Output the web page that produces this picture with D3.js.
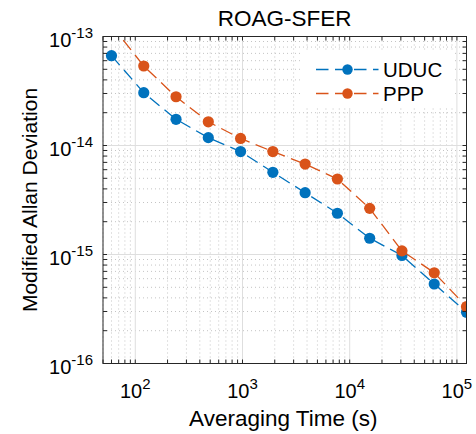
<!DOCTYPE html>
<html>
<head>
<meta charset="utf-8">
<script src="https://cdn.jsdelivr.net/npm/d3@7"></script>
<style>
  body { margin: 0; background: #fff; }
  text { font-family: "Liberation Sans", Arial, Helvetica, sans-serif; fill: #000; }
</style>
</head>
<body>
<div id="chart"></div>
<script>
// Averaging times (s) and modified Allan deviation
const tau = [60, 120, 240, 480, 960, 1920, 3840, 7680, 15360, 30720, 61440, 122880];
const uduc = [6.67e-14, 3.05e-14, 1.74e-14, 1.18e-14, 8.8e-15, 5.68e-15, 3.69e-15, 2.39e-15, 1.41e-15, 9.8e-16, 5.36e-16, 2.95e-16];
const ppp = [1.27e-13, 5.36e-14, 2.8e-14, 1.65e-14, 1.16e-14, 8.8e-15, 6.76e-15, 4.93e-15, 2.65e-15, 1.08e-15, 6.8e-16, 3.32e-16];
const seriesNames = ["UDUC", "PPP"];
const xTickExp = [2, 3, 4, 5];
const yTickExp = [-16, -15, -14, -13];

const W = 476, H = 434;
const margin = { top: 36.5, right: 9.5, bottom: 70.5, left: 103 };
const width = W - margin.left - margin.right;
const height = H - margin.top - margin.bottom;

const svg = d3.select("#chart")
  .append("svg")
  .attr("width", W)
  .attr("height", H)
  .append("g")
  .attr("transform", `translate(${margin.left},${margin.top})`);

const x = d3.scaleLog()
  .domain([50, 122880])
  .range([0, width]);

const y = d3.scaleLog()
  .domain([1e-16, 1e-13])
  .range([height, 0]);

const color = d3.scaleOrdinal()
  .domain(seriesNames)
  .range(["#0072BD", "#D95319"]);

// minor positions 2..9 per decade inside the domain
function minors(scale) {
  const [a, b] = scale.domain();
  const out = [];
  for (let e = Math.floor(Math.log10(a)); e <= Math.ceil(Math.log10(b)); e++) {
    for (let m = 2; m <= 9; m++) {
      const v = m * Math.pow(10, e);
      if (v >= a && v <= b) out.push(v);
    }
  }
  return out;
}
const xMajor = xTickExp.map(e => Math.pow(10, e));
const yMajor = yTickExp.map(e => Math.pow(10, e));
const xMinor = minors(x);
const yMinor = minors(y);

// Grid
const grid = svg.append("g");
grid.selectAll(".xminor").data(xMinor).enter().append("line")
  .attr("x1", d => x(d)).attr("x2", d => x(d))
  .attr("y1", 0).attr("y2", height)
  .attr("stroke", "#c4c4c4").attr("stroke-dasharray", "1,3");
grid.selectAll(".yminor").data(yMinor).enter().append("line")
  .attr("y1", d => y(d)).attr("y2", d => y(d))
  .attr("x1", 0).attr("x2", width)
  .attr("stroke", "#c4c4c4").attr("stroke-dasharray", "1,3");
grid.selectAll(".xmajor").data(xMajor).enter().append("line")
  .attr("x1", d => x(d)).attr("x2", d => x(d))
  .attr("y1", 0).attr("y2", height)
  .attr("stroke", "#dedede");
grid.selectAll(".ymajor").data(yMajor).enter().append("line")
  .attr("y1", d => y(d)).attr("y2", d => y(d))
  .attr("x1", 0).attr("x2", width)
  .attr("stroke", "#dedede");

// Clip for data
svg.append("clipPath").attr("id", "clip")
  .append("rect").attr("width", width).attr("height", height);

const plot = svg.append("g").attr("clip-path", "url(#clip)");

const line = d3.line()
  .x(d => x(d.t))
  .y(d => y(d.v));

[uduc, ppp].forEach(function(vals, i) {
  const pts = tau.map((t, k) => ({ t: t, v: vals[k] }));
  plot.append("path")
    .datum(pts)
    .attr("fill", "none")
    .attr("stroke", color(seriesNames[i]))
    .attr("stroke-width", 1.3)
    .attr("stroke-dasharray", "12.5,6.5")
    .attr("d", line);
  plot.selectAll(".m" + i)
    .data(pts)
    .enter()
    .append("circle")
    .attr("cx", d => x(d.t))
    .attr("cy", d => y(d.v))
    .attr("r", 5.6)
    .attr("fill", color(seriesNames[i]));
});

// Axes box and ticks (inward, all four sides)
const ink = "#262626";
const tl = 4;
const ticks = svg.append("g").attr("stroke", ink).attr("stroke-width", 1);
xMajor.concat(xMinor).forEach(function(d) {
  ticks.append("line").attr("x1", x(d)).attr("x2", x(d)).attr("y1", height).attr("y2", height - tl);
  ticks.append("line").attr("x1", x(d)).attr("x2", x(d)).attr("y1", 0).attr("y2", tl);
});
yMajor.concat(yMinor).forEach(function(d) {
  ticks.append("line").attr("y1", y(d)).attr("y2", y(d)).attr("x1", 0).attr("x2", tl);
  ticks.append("line").attr("y1", y(d)).attr("y2", y(d)).attr("x1", width).attr("x2", width - tl);
});
svg.append("rect")
  .attr("width", width)
  .attr("height", height)
  .attr("fill", "none")
  .attr("stroke", ink)
  .attr("stroke-width", 1);

// Tick labels
xTickExp.forEach(function(e) {
  const t = svg.append("text")
    .attr("x", x(Math.pow(10, e)))
    .attr("y", height + 34.5)
    .attr("text-anchor", "middle")
    .attr("font-size", "20px");
  t.append("tspan").text("10");
  t.append("tspan").attr("dy", -9).attr("font-size", "15px").text(e);
});
yTickExp.forEach(function(e) {
  const t = svg.append("text")
    .attr("x", -10)
    .attr("y", y(Math.pow(10, e)) + 10.5)
    .attr("text-anchor", "end")
    .attr("font-size", "20px");
  t.append("tspan").text("10");
  t.append("tspan").attr("dy", -9).attr("font-size", "15px").text(e);
});

// Axis labels
svg.append("text")
  .attr("x", width / 2 - 1.5)
  .attr("y", height + 62.5)
  .attr("text-anchor", "middle")
  .attr("font-size", "22.5px")
  .text("Averaging Time (s)");

svg.append("text")
  .attr("x", -height / 2)
  .attr("y", -66.5)
  .attr("transform", "rotate(-90)")
  .attr("text-anchor", "middle")
  .attr("font-size", "21px")
  .text("Modified Allan Deviation");

// Title
svg.append("text")
  .attr("x", width / 2)
  .attr("y", -10.5)
  .attr("text-anchor", "middle")
  .attr("font-size", "22.5px")
  .text("ROAG-SFER");

// Legend
const legend = svg.append("g")
  .attr("transform", `translate(${width - 164}, 13.5)`);

legend.append("rect")
  .attr("width", 152)
  .attr("height", 58)
  .attr("fill", "#fff");

seriesNames.forEach(function(name, i) {
  const ly = 19.5 + i * 24;
  legend.append("line")
    .attr("x1", 13.5).attr("x2", 76)
    .attr("y1", ly).attr("y2", ly)
    .attr("stroke", color(name))
    .attr("stroke-width", 1.3)
    .attr("stroke-dasharray", "12.5,6.5");
  legend.append("circle")
    .attr("cx", 45).attr("cy", ly)
    .attr("r", 5.2)
    .attr("fill", color(name));
  legend.append("text")
    .attr("x", 80.5)
    .attr("y", ly + 7.5)
    .attr("font-size", "20.5px")
    .text(name);
});
</script>
</body>
</html>
